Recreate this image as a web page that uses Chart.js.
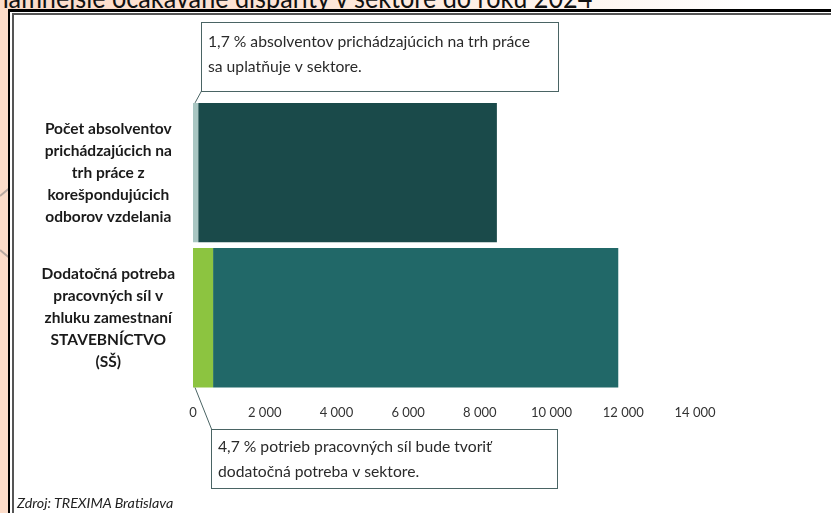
<!DOCTYPE html>
<html>
<head>
<meta charset="utf-8">
<script src="https://cdn.jsdelivr.net/npm/chart.js@4.4.1/dist/chart.umd.min.js"></script>
<style>
  body { margin: 0; width: 831px; height: 513px; overflow: hidden; position: relative;
         background: linear-gradient(to right, #fcdcc9 0%, #fde6d8 40%, #ffffff 90%); font-family: Lato, sans-serif; }
  #title { position: absolute; right: 239px; top: -20px; font-size: 28px; color: #111; white-space: nowrap;
           font-family: Lato, sans-serif; transform: scaleX(0.9); transform-origin: right center; }
  #deco { position: absolute; left: 0; top: 150px; }
  #frame { position: absolute; left: 8px; top: 9px; right: -10px; bottom: -10px;
           border-left: 2px solid #000; border-top: 3px solid #000; background: #fff; }
  #inner { position: absolute; left: 2px; top: 1px; right: 0; bottom: 0; border-left: 2px solid #555; border-top: 2px solid #555; background: #fff; }
  #wrap { position: absolute; left: 14px; top: 15px; width: 817px; height: 498px; }
  #source { position: absolute; left: 17px; top: 494px; font-size: 14.3px; font-style: italic; color: #222; }
</style>
</head>
<body>
<div id="title">Najvýznamnejšie očakávané disparity v sektore do roku 2024</div>
<svg id="deco" width="12" height="140"><path d="M0 46 L12 36" stroke="#b8a8a0" stroke-width="2" fill="none"/><path d="M0 100 L12 110" stroke="#b8a8a0" stroke-width="2" fill="none"/></svg>
<div id="frame"><div id="inner"></div></div>
<div id="wrap"><canvas id="chart"></canvas></div>
<div id="source">Zdroj: TREXIMA Bratislava</div>
<script>
document.addEventListener('DOMContentLoaded', function() {
  // categories (y axis), two stacked parts per bar
  const categories = [
    ['Počet absolventov', 'prichádzajúcich na', 'trh práce z', 'korešpondujúcich', 'odborov vzdelania'],
    ['Dodatočná potreba', 'pracovných síl v', 'zhluku zamestnaní', 'STAVEBNÍCTVO', '(SŠ)']
  ];
  const sectorPart = [145, 560];
  const restPart = [8330, 11300];
  const xTicks = [0, 2000, 4000, 6000, 8000, 10000, 12000, 14000];
  const notes = [
    ['1,7 % absolventov prichádzajúcich na trh práce', 'sa uplatňuje v sektore.'],
    ['4,7 % potrieb pracovných síl bude tvoriť', 'dodatočná potreba v sektore.']
  ];

  function fmt(v) {
    return String(v).replace(/\B(?=(\d{3})+(?!\d))/g, ' ');
  }

  // callout boxes with pointer lines to the bar corners
  const callouts = {
    id: 'callouts',
    afterDraw(chart) {
      const ctx = chart.ctx;
      const bars = chart.getDatasetMeta(0).data;
      const b0 = bars[0], b1 = bars[1];
      const boxes = [
        { x: 187, y: 7, w: 357, h: 69, ax: b0.base + 2, ay: b0.y - b0.height / 2 },
        { x: 197, y: 414, w: 346, h: 59, ax: b1.base + 2, ay: b1.y + b1.height / 2 }
      ];
      ctx.save();
      ctx.strokeStyle = '#4a6464';
      ctx.lineWidth = 1;
      boxes.forEach(function(bx, i) {
        ctx.fillStyle = '#ffffff';
        ctx.fillRect(bx.x, bx.y, bx.w, bx.h);
        ctx.strokeRect(bx.x + 0.5, bx.y + 0.5, bx.w, bx.h);
        ctx.beginPath();
        if (i === 0) {
          ctx.moveTo(bx.x + 0.5, bx.y + bx.h);
        } else {
          ctx.moveTo(bx.x + 0.5, bx.y);
        }
        ctx.lineTo(bx.ax, bx.ay);
        ctx.stroke();
        ctx.fillStyle = '#2a2a2a';
        ctx.font = '15.7px Lato, sans-serif';
        ctx.textBaseline = 'middle';
        ctx.textAlign = 'left';
        notes[i].forEach(function(line, j) {
          ctx.fillText(line, bx.x + 7, bx.y + (i === 0 ? 20 : 18) + j * 25);
        });
      });
      ctx.restore();
    }
  };

  const ctx = document.getElementById('chart').getContext('2d');
  new Chart(ctx, {
    type: 'bar',
    data: {
      labels: categories,
      datasets: [{
        label: 'v sektore',
        data: sectorPart,
        backgroundColor: ['#a9c6c2', '#8cc440'],
        borderWidth: 0
      }, {
        label: 'spolu',
        data: restPart,
        backgroundColor: ['#1a4a4a', '#216868'],
        borderWidth: 0
      }]
    },
    options: {
      indexAxis: 'y',
      responsive: true,
      maintainAspectRatio: false,
      animation: false,
      datasets: {
        bar: { categoryPercentage: 1, barPercentage: 0.96 }
      },
      layout: {
        padding: { left: 0, right: 136, top: 85, bottom: 85 }
      },
      plugins: {
        legend: { display: false },
        tooltip: { enabled: false }
      },
      scales: {
        x: {
          stacked: true,
          min: 0,
          max: 14000,
          afterBuildTicks: function(scale) {
            scale.ticks = xTicks.map(v => ({ value: v }));
          },
          grid: { display: false },
          border: { display: false },
          ticks: {
            color: '#333',
            padding: 7,
            font: { family: 'Lato, sans-serif', size: 13 },
            callback: function(value) { return fmt(value); }
          }
        },
        y: {
          stacked: true,
          afterFit: function(scale) { scale.width = 179; },
          grid: { display: false },
          border: { display: false },
          ticks: {
            color: '#1a1a1a',
            crossAlign: 'center',
            padding: 10,
            font: { family: 'Lato, sans-serif', size: 15.5, weight: 'bold', lineHeight: 1.42 }
          }
        }
      }
    },
    plugins: [callouts]
  });
});
</script>
</body>
</html>
